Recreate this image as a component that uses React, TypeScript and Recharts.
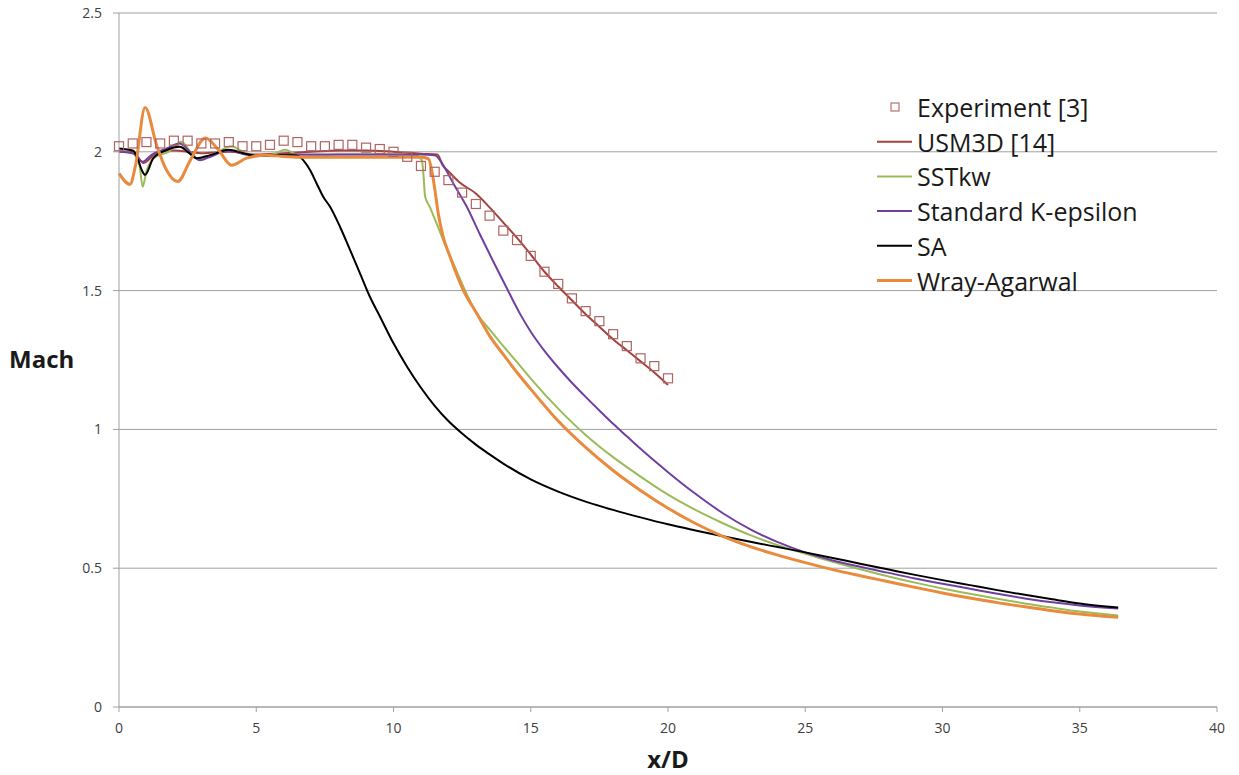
import React from 'react';
import { ComposedChart, Line, Scatter, XAxis, YAxis, CartesianGrid, Legend } from 'recharts';

// Experiment [3]
const expX = [0, 0.5, 1, 1.5, 2, 2.5, 3, 3.5, 4, 4.5, 5, 5.5, 6, 6.5, 7, 7.5, 8, 8.5, 9, 9.5, 10, 10.5, 11, 11.5, 12, 12.5, 13, 13.5, 14, 14.5, 15, 15.5, 16, 16.5, 17, 17.5, 18, 18.5, 19, 19.5, 20];
const expMach = [2.02, 2.03, 2.035, 2.03, 2.04, 2.04, 2.03, 2.03, 2.035, 2.02, 2.02, 2.025, 2.04, 2.035, 2.02, 2.02, 2.025, 2.025, 2.015, 2.01, 2.0, 1.982, 1.949, 1.928, 1.898, 1.853, 1.812, 1.77, 1.716, 1.682, 1.625, 1.568, 1.524, 1.472, 1.426, 1.39, 1.343, 1.3, 1.256, 1.228, 1.184];

// USM3D [14]
const usmX = [0, 0.5, 0.9, 1.3, 2, 3, 4, 5, 6, 7, 8, 9, 10, 11, 11.6, 11.8, 12, 12.4, 13, 13.5, 14, 14.5, 15, 15.5, 16, 16.5, 17, 17.5, 18, 18.5, 19, 19.5, 20];
const usmMach = [2.0, 2.0, 1.96, 1.99, 2.005, 1.995, 2.0, 1.99, 1.995, 2.0, 2.005, 2.005, 2.0, 1.993, 1.99, 1.95, 1.93, 1.89, 1.85, 1.8, 1.745, 1.69, 1.63, 1.568, 1.515, 1.465, 1.415, 1.37, 1.325, 1.285, 1.245, 1.205, 1.16];

// SSTkw
const sstX = [0, 0.5, 0.75, 0.86, 1.0, 1.3, 1.8, 2.28, 2.6, 2.9, 3.4, 4.1, 4.6, 5.2, 5.6, 6.05, 6.5, 7, 8, 9, 10, 10.8, 11.03, 11.09, 11.15, 11.33, 11.57, 11.81, 12.18, 12.6, 13.03, 13.5, 14, 14.5, 15, 16, 17, 18, 19, 20, 21, 22, 23, 24, 25, 26, 27, 28, 29, 30, 31, 32, 33, 34, 35, 36.4];
const sstMach = [2.0, 1.995, 1.95, 1.874, 1.93, 1.98, 2.0, 2.036, 2.0, 1.975, 1.99, 2.02, 1.995, 1.985, 1.99, 2.007, 1.99, 1.985, 1.99, 1.99, 1.99, 1.988, 1.97, 1.92, 1.84, 1.8, 1.742, 1.682, 1.598, 1.502, 1.418, 1.36, 1.3, 1.242, 1.183, 1.075, 0.98, 0.9, 0.83, 0.765, 0.71, 0.662, 0.619, 0.583, 0.552, 0.523, 0.496, 0.471, 0.448, 0.427, 0.408, 0.39, 0.373, 0.358, 0.344, 0.33];

// Standard K-epsilon
const keX = [0, 0.5, 0.86, 1.2, 1.74, 2.2, 2.95, 3.4, 4, 4.6, 5.2, 6, 7, 8, 9, 10, 11, 11.51, 11.81, 12.18, 12.67, 13.15, 13.64, 14.12, 14.6, 15, 15.5, 16, 16.5, 17, 17.5, 18, 18.5, 19, 20, 21, 22, 23, 24, 25, 26, 27, 28, 29, 30, 31, 32, 33, 34, 35, 36.4];
const keMach = [2.0, 1.995, 1.964, 1.99, 2.012, 2.03, 1.97, 1.985, 2.005, 1.99, 1.985, 1.99, 1.99, 1.99, 1.99, 1.99, 1.99, 1.988, 1.952, 1.886, 1.802, 1.702, 1.604, 1.51, 1.418, 1.352, 1.283, 1.223, 1.168, 1.117, 1.068, 1.02, 0.975, 0.93, 0.846, 0.768, 0.698, 0.64, 0.594, 0.557, 0.528, 0.505, 0.484, 0.463, 0.444, 0.426, 0.408, 0.391, 0.377, 0.366, 0.355];

// SA
const saX = [0, 0.52, 0.7, 0.83, 0.95, 1.25, 1.74, 2.22, 2.5, 2.83, 3.32, 3.98, 4.53, 5.02, 5.74, 6.35, 6.53, 6.71, 6.96, 7.2, 7.44, 7.69, 8.05, 8.42, 8.78, 9.14, 9.51, 10, 10.5, 11, 11.5, 12, 12.5, 13, 13.5, 14, 15, 16, 17, 18, 19, 20, 21, 22, 23, 24, 25, 26, 27, 28, 29, 30, 31, 32, 33, 34, 35, 36.4];
const saMach = [2.012, 2.004, 1.97, 1.934, 1.917, 1.977, 2.007, 2.018, 2.0, 1.977, 1.988, 2.007, 1.995, 1.985, 1.988, 1.988, 1.985, 1.97, 1.934, 1.886, 1.838, 1.802, 1.73, 1.646, 1.562, 1.478, 1.406, 1.31, 1.225, 1.15, 1.085, 1.03, 0.985, 0.945, 0.91, 0.877, 0.82, 0.776, 0.74, 0.71, 0.683, 0.658, 0.636, 0.615, 0.595, 0.576, 0.557, 0.537, 0.516, 0.496, 0.476, 0.457, 0.439, 0.421, 0.404, 0.388, 0.373, 0.358];

// Wray-Agarwal
const waX = [0, 0.4, 0.6, 0.95, 1.37, 1.7, 2.14, 2.6, 3.15, 3.6, 4.1, 4.65, 5.38, 6, 7, 8, 9, 10, 11, 11.27, 11.39, 11.51, 11.63, 11.81, 12.06, 12.54, 13.03, 13.52, 14, 14.5, 15, 16, 17, 18, 19, 20, 21, 22, 23, 24, 25, 26, 27, 28, 29, 30, 31, 32, 33, 34, 35, 36.4];
const waMach = [1.922, 1.883, 1.95, 2.16, 2.024, 1.94, 1.893, 1.97, 2.05, 2.01, 1.952, 1.977, 1.988, 1.983, 1.98, 1.98, 1.98, 1.98, 1.98, 1.975, 1.934, 1.862, 1.778, 1.694, 1.622, 1.502, 1.418, 1.334, 1.27, 1.205, 1.145, 1.03, 0.935, 0.852, 0.78, 0.716, 0.661, 0.615, 0.578, 0.547, 0.52, 0.495, 0.473, 0.452, 0.431, 0.411, 0.393, 0.376, 0.361, 0.347, 0.335, 0.323];

const xTicks = [0, 5, 10, 15, 20, 25, 30, 35, 40];
const yTicks = [0, 0.5, 1, 1.5, 2, 2.5];

const seriesNames = ['Experiment [3]', 'USM3D [14]', 'SSTkw', 'Standard K-epsilon', 'SA', 'Wray-Agarwal'];
const seriesColors: Record<string, string> = {
  'Experiment [3]': '#b06464',
  'USM3D [14]': '#a3423e',
  'SSTkw': '#9bbb59',
  'Standard K-epsilon': '#7040a0',
  'SA': '#000000',
  'Wray-Agarwal': '#e98a3d',
};

const toPoints = (xs: number[], ys: number[]) => xs.map((x, i) => ({ x, mach: ys[i] }));

const FONT = '"Open Sans", sans-serif';
const AXIS_GRAY = '#a0a0a0';

const SquareMarker = (props: any) => {
  const { cx, cy } = props;
  if (cx == null || cy == null) return null;
  return (
    <rect x={cx - 4.5} y={cy - 4.5} width={9} height={9} fill="none"
      stroke={seriesColors['Experiment [3]']} strokeWidth={1.2} />
  );
};

const renderLegend = (props: any) => {
  const names = (props.payload && props.payload.length)
    ? [...props.payload].map((p: any) => p.value).sort((a: string, b: string) => seriesNames.indexOf(a) - seriesNames.indexOf(b))
    : seriesNames;
  return (
    <svg width={320} height={210} style={{ display: 'block' }}>
      {names.map((name: string, i: number) => {
        const cy = 17 + i * 34.7;
        const color = seriesColors[name];
        return (
          <g key={name}>
            {name === 'Experiment [3]' ? (
              <rect x={21} y={cy - 4} width={8} height={8} fill="none" stroke={color} strokeWidth={1.1} />
            ) : (
              <line x1={7} x2={42} y1={cy} y2={cy} stroke={color} strokeWidth={name === 'Wray-Agarwal' ? 3 : 2} />
            )}
            <text x={47} y={cy} dominantBaseline="central" fontFamily={FONT} fontSize={25} fill="#1a1a1a">
              {name}
            </text>
          </g>
        );
      })}
    </svg>
  );
};

export default function App() {
  return (
    <div style={{ position: 'absolute', left: 0, top: 0, width: 1239, height: 775, background: '#fff' }}>
      <ComposedChart width={1239} height={775} margin={{ top: 13, right: 22, bottom: 38, left: 59 }}>
        <CartesianGrid vertical={false} stroke={AXIS_GRAY} strokeWidth={1} />
        <XAxis
          type="number"
          dataKey="x"
          domain={[0, 40]}
          ticks={xTicks}
          height={30}
          stroke={AXIS_GRAY}
          tickSize={5}
          tickMargin={11}
          tick={{ fill: '#404040', fontSize: 14, fontFamily: FONT }}
          label={{
            content: (p: any) => {
              const vb = p.viewBox || { x: 119, y: 707, width: 1098 };
              return (
                <text x={vb.x + vb.width / 2} y={vb.y + 61} textAnchor="middle"
                  fontFamily={FONT} fontWeight="bold" fontSize={24} fill="#1a1a1a">x/D</text>
              );
            },
          }}
        />
        <YAxis
          type="number"
          dataKey="mach"
          domain={[0, 2.5]}
          ticks={yTicks}
          width={60}
          stroke={AXIS_GRAY}
          tickSize={6}
          tickMargin={11}
          tick={{ fill: '#404040', fontSize: 14, fontFamily: FONT }}
          label={{
            content: (p: any) => {
              const vb = p.viewBox || { x: 59, y: 13, height: 694 };
              return (
                <text x={vb.x - 50} y={vb.y + vb.height / 2 + 8}
                  fontFamily={FONT} fontWeight="bold" fontSize={24} fill="#1a1a1a">Mach</text>
              );
            },
          }}
        />
        <Legend
          layout="vertical"
          align="center"
          verticalAlign="middle"
          content={renderLegend}
          wrapperStyle={{ left: 870, top: 90, width: 320, height: 210 }}
        />
        <Scatter name="Experiment [3]" data={toPoints(expX, expMach)} dataKey="mach"
          fill="none" stroke={seriesColors['Experiment [3]']} shape={<SquareMarker />} isAnimationActive={false} />
        <Line name="USM3D [14]" data={toPoints(usmX, usmMach)} dataKey="mach" type="monotone"
          stroke={seriesColors['USM3D [14]']} strokeWidth={2} dot={false} activeDot={false} isAnimationActive={false} />
        <Line name="SSTkw" data={toPoints(sstX, sstMach)} dataKey="mach" type="monotone"
          stroke={seriesColors['SSTkw']} strokeWidth={2} dot={false} activeDot={false} isAnimationActive={false} />
        <Line name="Standard K-epsilon" data={toPoints(keX, keMach)} dataKey="mach" type="monotone"
          stroke={seriesColors['Standard K-epsilon']} strokeWidth={2} dot={false} activeDot={false} isAnimationActive={false} />
        <Line name="SA" data={toPoints(saX, saMach)} dataKey="mach" type="monotone"
          stroke={seriesColors['SA']} strokeWidth={2} dot={false} activeDot={false} isAnimationActive={false} />
        <Line name="Wray-Agarwal" data={toPoints(waX, waMach)} dataKey="mach" type="monotone"
          stroke={seriesColors['Wray-Agarwal']} strokeWidth={3} dot={false} activeDot={false} isAnimationActive={false} />
      </ComposedChart>
    </div>
  );
}
